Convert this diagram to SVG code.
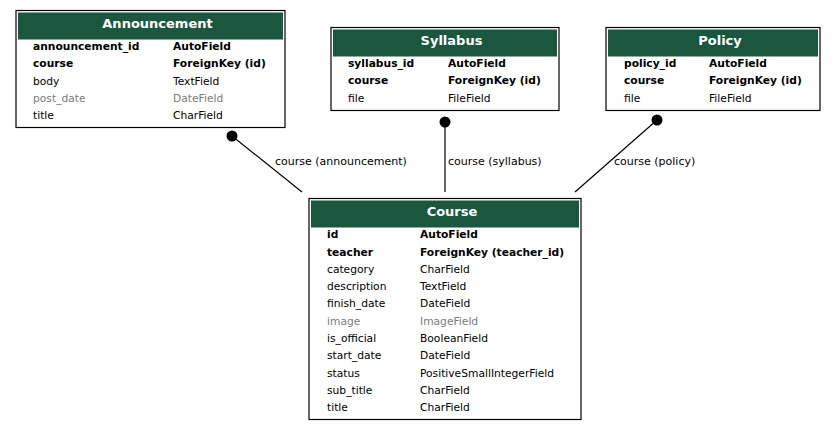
<svg xmlns="http://www.w3.org/2000/svg" width="837" height="431" viewBox="0 0 837 431">
<style>
text{font-family:"DejaVu Sans","Liberation Sans",sans-serif;font-size:10.7px;fill:#000}
.h{font-weight:bold;font-size:13px;fill:#fff;text-anchor:middle}
.b{font-weight:bold}
.g{fill:#7b7b7b}
.box{fill:#fff;stroke:#000;stroke-width:1.2}
.hd{fill:#1b563f}
.e{stroke:#000;stroke-width:1.2;fill:none}
.lbl{font-size:11px}
</style>
<rect width="837" height="431" fill="#fff"/>
<g id="connectors">
<line class="e" x1="232" y1="136" x2="302" y2="192"/>
<circle cx="232" cy="136" r="5.5"/>
<text class="lbl" x="275" y="165">course (announcement)</text>
<line class="e" x1="445" y1="122" x2="445" y2="192"/>
<circle cx="445" cy="122" r="5.5"/>
<text class="lbl" x="448" y="165">course (syllabus)</text>
<line class="e" x1="657" y1="120" x2="575" y2="192"/>
<circle cx="657" cy="120" r="5.5"/>
<text class="lbl" x="614" y="165">course (policy)</text>
</g>
<g id="announcement">
<rect class="box" x="16" y="10.5" width="269" height="117"/>
<rect class="hd" x="18" y="12.5" width="265" height="27"/>
<text class="h" x="157.5" y="28">Announcement</text>
<text class="b" x="33" y="50">announcement_id</text><text class="b" x="173" y="50">AutoField</text>
<text class="b" x="33" y="67">course</text><text class="b" x="173" y="67">ForeignKey (id)</text>
<text x="33" y="85">body</text><text x="173" y="85">TextField</text>
<text class="g" x="33" y="102">post_date</text><text class="g" x="173" y="102">DateField</text>
<text x="33" y="119">title</text><text x="173" y="119">CharField</text>
</g>
<g id="syllabus">
<rect class="box" x="331" y="27.5" width="228" height="83"/>
<rect class="hd" x="333" y="29.5" width="224" height="27"/>
<text class="h" x="451.5" y="45">Syllabus</text>
<text class="b" x="348" y="67">syllabus_id</text><text class="b" x="448" y="67">AutoField</text>
<text class="b" x="348" y="84">course</text><text class="b" x="448" y="84">ForeignKey (id)</text>
<text x="348" y="102">file</text><text x="448" y="102">FileField</text>
</g>
<g id="policy">
<rect class="box" x="606" y="27.5" width="214" height="83"/>
<rect class="hd" x="608" y="29.5" width="210" height="27"/>
<text class="h" x="720" y="45">Policy</text>
<text class="b" x="624" y="67">policy_id</text><text class="b" x="709" y="67">AutoField</text>
<text class="b" x="624" y="84">course</text><text class="b" x="709" y="84">ForeignKey (id)</text>
<text x="624" y="102">file</text><text x="709" y="102">FileField</text>
</g>
<g id="course">
<rect class="box" x="309" y="198.5" width="272" height="221"/>
<rect class="hd" x="311" y="200.5" width="268" height="27"/>
<text class="h" x="452" y="216">Course</text>
<text class="b" x="327" y="238">id</text><text class="b" x="420" y="238">AutoField</text>
<text class="b" x="327" y="255.5">teacher</text><text class="b" x="420" y="255.5">ForeignKey (teacher_id)</text>
<text x="327" y="273">category</text><text x="420" y="273">CharField</text>
<text x="327" y="290">description</text><text x="420" y="290">TextField</text>
<text x="327" y="307">finish_date</text><text x="420" y="307">DateField</text>
<text class="g" x="327" y="325">image</text><text class="g" x="420" y="325">ImageField</text>
<text x="327" y="342">is_official</text><text x="420" y="342">BooleanField</text>
<text x="327" y="359">start_date</text><text x="420" y="359">DateField</text>
<text x="327" y="377">status</text><text x="420" y="377">PositiveSmallIntegerField</text>
<text x="327" y="394">sub_title</text><text x="420" y="394">CharField</text>
<text x="327" y="411">title</text><text x="420" y="411">CharField</text>
</g>
</svg>
